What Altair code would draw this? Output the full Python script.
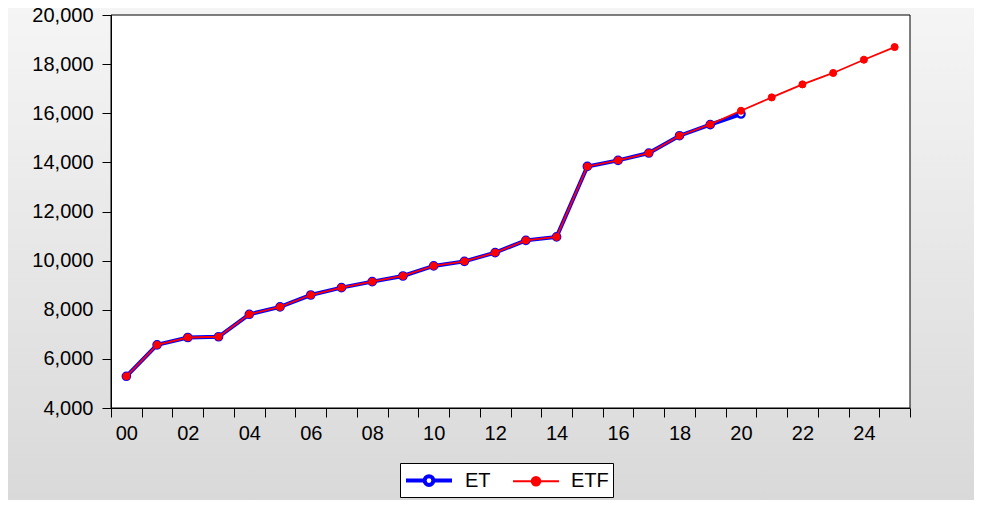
import altair as alt
import pandas as pd

years = ["00", "01", "02", "03", "04", "05", "06", "07", "08", "09", "10", "11", "12",
         "13", "14", "15", "16", "17", "18", "19", "20", "21", "22", "23", "24", "25"]
et_values = [5290, 6570, 6870, 6900, 7815, 8115, 8600, 8900, 9145, 9375, 9785, 9970,
             10325, 10825, 10965, 13835, 14080, 14380, 15085, 15535, 15970]
etf_values = [5290, 6570, 6870, 6900, 7815, 8115, 8600, 8900, 9145, 9375, 9785, 9970,
              10325, 10825, 10965, 13835, 14080, 14380, 15085, 15545, 16100, 16645,
              17175, 17640, 18180, 18695]
series_names = ["ET", "ETF"]
y_ticks = [4000, 6000, 8000, 10000, 12000, 14000, 16000, 18000, 20000]

rows = []
for i, v in enumerate(et_values):
    rows.append({"year": years[i], "series": "ET", "value": v})
for i, v in enumerate(etf_values):
    rows.append({"year": years[i], "series": "ETF", "value": v})
df = pd.DataFrame(rows)

W, H = 799, 393
PAD = {"left": 103, "top": 7, "right": 64, "bottom": 92}
FS = 20

x_enc = alt.X("year:O", sort=years,
              scale=alt.Scale(type="band", domain=years, paddingInner=0, paddingOuter=0),
              axis=alt.Axis(title=None, tickBand="extent", labelAngle=0, labelOverlap=False,
                            labelExpr="parseInt(datum.value) % 2 == 0 ? datum.value : ''",
                            tickSize=9, labelPadding=6, domainColor="black",
                            tickColor="black", zindex=1))
y_enc = alt.Y("value:Q",
              scale=alt.Scale(domain=[4000, 20000], nice=False, zero=False),
              axis=alt.Axis(title=None, values=y_ticks, format=",.0f", grid=False,
                            tickSize=9, labelPadding=9, domainColor="black",
                            tickColor="black", zindex=1))

# line from -1 to 3 with a circle in the middle (x=1)
sym_path = ("M-1,0H0.62M1.38,0H3M1.38,0A0.38,0.38,0,1,1,0.62,0"
            "A0.38,0.38,0,1,1,1.38,0Z")
leg = alt.Legend(orient="none", legendX=289, legendY=448, direction="horizontal",
                 title=None, strokeColor="black", fillColor="white", padding=4,
                 labelFontSize=FS, labelFont="Liberation Sans", labelColor="black",
                 symbolType=sym_path, symbolSize=529, columnPadding=18,
                 labelOffset=34, labelExpr="datum.label + '  '")

stroke_enc = alt.Stroke("series:N", scale=alt.Scale(domain=series_names,
                                                     range=["#0000ff", "#ff0000"]),
                        legend=leg)
sw_enc = alt.StrokeWidth("series:N", scale=alt.Scale(domain=series_names, range=[4, 1.8]),
                         legend=leg)
fill_enc = alt.Fill("series:N", scale=alt.Scale(domain=series_names,
                                                 range=["#ffffff", "#ff0000"]),
                    legend=leg)

one = pd.DataFrame({"a": [0]})
bg = alt.Chart(one).mark_rect(
    fill=alt.Gradient(gradient="linear", x1=0, x2=0, y1=0, y2=1,
                      stops=[alt.GradientStop(color="#f5f5f5", offset=0),
                             alt.GradientStop(color="#d9d9d9", offset=1)]),
    strokeWidth=0
).encode(x=alt.value(-PAD["left"]), x2=alt.value(W + PAD["right"]),
         y=alt.value(-PAD["top"]), y2=alt.value(H + PAD["bottom"]))

plot_bg = alt.Chart(one).mark_rect(fill="white", stroke="black", strokeWidth=1).encode(
    x=alt.value(0), x2=alt.value(W), y=alt.value(0), y2=alt.value(H))

base = alt.Chart(df)
line_et = base.transform_filter("datum.series == 'ET'").mark_line().encode(
    x=x_enc, y=y_enc, stroke=stroke_enc, strokeWidth=sw_enc)
pts_et = base.transform_filter("datum.series == 'ET'").mark_point(
    filled=False, size=55, strokeWidth=2.2, opacity=1, shape="circle").encode(
    x=x_enc, y=y_enc, stroke=stroke_enc, fill=fill_enc)
line_etf = base.transform_filter("datum.series == 'ETF'").mark_line().encode(
    x=x_enc, y=y_enc, stroke=stroke_enc, strokeWidth=sw_enc)
pts_etf = base.transform_filter("datum.series == 'ETF'").mark_point(
    filled=True, size=50, strokeWidth=1, opacity=1, shape="circle").encode(
    x=x_enc, y=y_enc, stroke=stroke_enc, fill=fill_enc)

chart = alt.layer(bg, plot_bg, line_et, pts_et, line_etf, pts_etf).properties(
    width=W, height=H, padding=PAD, autosize="none", background="#e6e6e6"
).configure_view(strokeWidth=0).configure_axis(
    labelFont="Liberation Sans", labelFontSize=FS, labelColor="black"
)

chart.save("out.html", embed_options={"renderer": "svg", "actions": False})
